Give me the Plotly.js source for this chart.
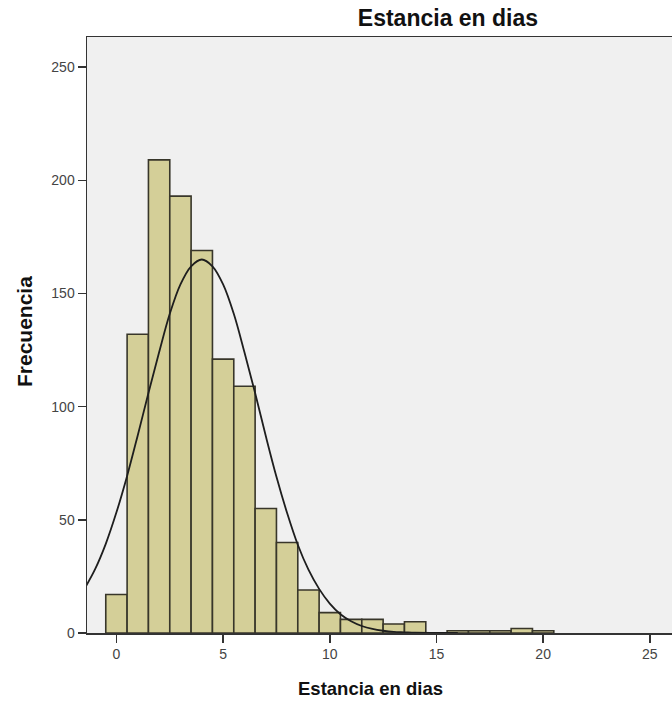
<!DOCTYPE html>
<html>
<head>
<meta charset="utf-8">
<script src="https://cdn.plot.ly/plotly-3.0.1.min.js"></script>
<style>
html,body{margin:0;padding:0;background:#fff;}
#chart{width:672px;height:701px;}
</style>
</head>
<body>
<div id="chart"></div>
<script>
// Histogram bins (days, bin width 1, centred on integers)
const binCenters = [0,1,2,3,4,5,6,7,8,9,10,11,12,13,14,15,16,17,18,19,20];
const frequencies = [17,132,209,193,169,121,109,55,40,19,9,6,6,4,5,0,1,1,1,2,1];

// Normal curve
const curveX = [-1.5,-1,-0.5,0,0.5,1,1.5,2,2.5,3,3.5,4,4.5,5,5.5,6,6.5,7,7.5,8,8.5,9,9.5,10,10.5,11,11.5,12,12.5,13,13.5,14,15,16];
const curveY = [19.5,28.2,39.4,53.3,69.4,87.4,106,124,141,154,162,165,162,154,141,124,106,87,69,53,39,28,19.5,13,8.3,5.2,3.1,1.8,1.0,0.5,0.3,0.1,0.03,0];

const xTicks = [0,5,10,15,20,25];
const yTicks = [0,50,100,150,200,250];

const chartTitle = "Estancia en dias";
const xTitle = "Estancia en dias";
const yTitle = "Frecuencia";

const FONT = "Liberation Sans, Arial, Helvetica, sans-serif";

const traces = [
  {
    type: "bar",
    x: binCenters,
    y: frequencies,
    width: 1,
    marker: {color: "#d4cf98", line: {color: "#38362a", width: 1.6}},
    hoverinfo: "x+y",
    showlegend: false
  },
  {
    type: "scatter",
    mode: "lines",
    x: curveX,
    y: curveY,
    line: {color: "#1e1e1e", width: 1.8, shape: "spline", smoothing: 1},
    hoverinfo: "skip",
    showlegend: false
  }
];

const layout = {
  width: 672,
  height: 701,
  margin: {l: 87, r: 0, t: 37, b: 68, pad: 0},
  paper_bgcolor: "#ffffff",
  plot_bgcolor: "#f0f0f0",
  bargap: 0,
  font: {family: FONT, color: "#333"},
  title: {
    text: chartTitle,
    font: {family: FONT, size: 23, color: "#111", weight: "bold"},
    x: 0.617, xref: "paper", xanchor: "center",
    y: 0.975, yref: "container", yanchor: "middle"
  },
  xaxis: {
    range: [-1.38, 26.04],
    tickvals: xTicks,
    ticktext: xTicks.map(String),
    ticks: "outside",
    ticklen: 8,
    tickwidth: 1.5,
    tickcolor: "#333",
    tickfont: {family: FONT, size: 14, color: "#444"},
    showline: true,
    linecolor: "#333",
    linewidth: 1.5,
    mirror: true,
    showgrid: false,
    zeroline: false,
    fixedrange: true
  },
  yaxis: {
    range: [0, 263.3],
    tickvals: yTicks,
    ticktext: yTicks.map(String),
    ticks: "outside",
    ticklen: 8,
    tickwidth: 1.5,
    tickcolor: "#333",
    tickfont: {family: FONT, size: 14, color: "#444"},
    showline: true,
    linecolor: "#333",
    linewidth: 1.5,
    showgrid: false,
    zeroline: false,
    fixedrange: true
  },
  annotations: [
    {
      text: "<b>" + xTitle + "</b>",
      xref: "paper", yref: "paper",
      x: (370 - 87) / 585, y: -55 / 596,
      xanchor: "center", yanchor: "middle",
      showarrow: false,
      font: {family: FONT, size: 18.5, color: "#111"}
    },
    {
      text: "<b>" + yTitle + "</b>",
      xref: "paper", yref: "paper",
      x: -63 / 585, y: (632 - 331) / 596,
      xanchor: "center", yanchor: "middle",
      textangle: -90,
      showarrow: false,
      font: {family: FONT, size: 21, color: "#111"}
    }
  ]
};

Plotly.newPlot("chart", traces, layout, {displayModeBar: false, staticPlot: true});
</script>
</body>
</html>
